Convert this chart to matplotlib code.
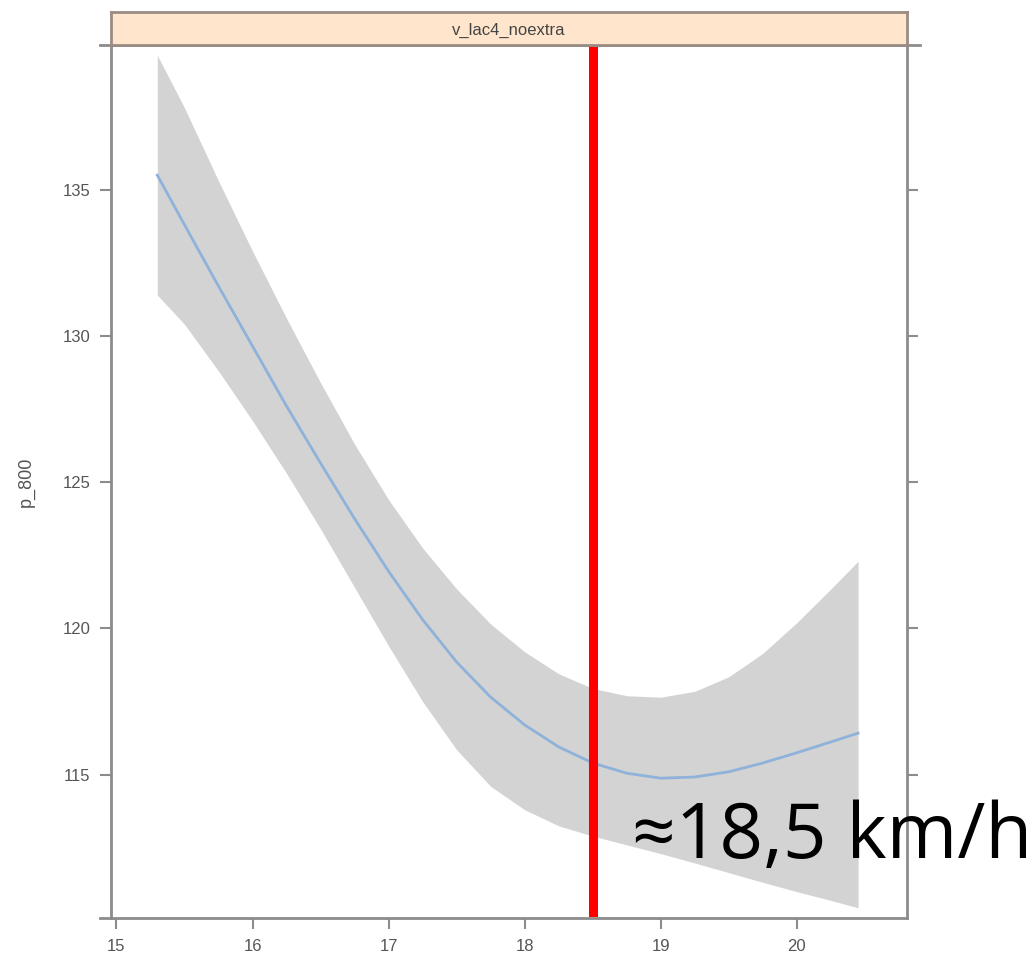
import matplotlib.pyplot as plt
from matplotlib.patches import Rectangle

# values
speed = [15.3, 15.5, 15.75, 16.0, 16.25, 16.5, 16.75, 17.0, 17.25, 17.5, 17.75,
         18.0, 18.25, 18.5, 18.75, 19.0, 19.25, 19.5, 19.75, 20.0, 20.25, 20.45]
fit = [135.5, 133.8, 131.7, 129.65, 127.6, 125.65, 123.75, 121.95, 120.3, 118.85, 117.65,
       116.7, 115.95, 115.4, 115.05, 114.88, 114.92, 115.1, 115.4, 115.75, 116.12, 116.42]
upper = [139.6, 137.8, 135.3, 132.9, 130.6, 128.4, 126.3, 124.4, 122.75, 121.35, 120.15,
         119.2, 118.45, 117.95, 117.7, 117.65, 117.85, 118.35, 119.15, 120.2, 121.35, 122.3]
lower = [131.4, 130.4, 128.8, 127.1, 125.3, 123.4, 121.4, 119.4, 117.5, 115.85, 114.6,
         113.8, 113.25, 112.9, 112.6, 112.3, 111.98, 111.65, 111.32, 111.0, 110.7, 110.45]
x_ticks = [15, 16, 17, 18, 19, 20]
y_ticks = [115, 120, 125, 130, 135]
marker_speed = 18.5
marker_label = '\u224818,5 km/h'
panel_title = 'v_lac4_noextra'

frame_col = '#8c8c8c'
tick_col = '#555555'
narrow = ['Liberation Sans Narrow', 'Liberation Sans']

fig = plt.figure(figsize=(10.33, 9.66), dpi=100)
ax = fig.add_axes([0.1075, 0.0497, 0.7706, 0.9037])

ax.fill_between(speed, lower, upper, color='#d3d3d3', linewidth=0)
ax.plot(speed, fit, color='#8fb2da', linewidth=2)

ax.set_xlim(14.96, 20.81)
ax.set_ylim(110.1, 139.95)
ax.set_xticks(x_ticks)
ax.set_yticks(y_ticks)
ax.tick_params(axis='both', direction='out', length=8, width=1.5, color=frame_col,
               labelcolor=tick_col, labelsize=12, pad=7)
ax.tick_params(axis='y', right=True)
for lab in ax.get_xticklabels() + ax.get_yticklabels():
    lab.set_family(narrow)
ax.set_ylabel('p_800', color=tick_col, fontsize=13, labelpad=20, family=narrow)
for s in ax.spines.values():
    s.set_color(frame_col)
    s.set_linewidth(2)

# little stubs where the frame lines run past the corners
ax.plot([-0.014, 0], [0, 0], transform=ax.transAxes, color=frame_col, lw=2, clip_on=False)
ax.plot([-0.014, 1.016], [1, 1], transform=ax.transAxes, color=frame_col, lw=2, clip_on=False)

# red marker line and label
ax.axvline(marker_speed, ymin=0.007, ymax=0.994, color='#ff0000', linewidth=6.5)
ax.text(18.79, 112.16, marker_label, fontsize=55, color='black', va='baseline', ha='left',
        family=['Open Sans', 'DejaVu Sans'])

# lattice-style strip on top
strip = fig.add_axes([0.1075, 0.9534, 0.7706, 0.0342])
strip.add_patch(Rectangle((0, 0), 1, 1, transform=strip.transAxes, facecolor='#ffe5cc',
                          edgecolor='none'))
strip.set_xticks([])
strip.set_yticks([])
for s in strip.spines.values():
    s.set_color('#9a8c84')
    s.set_linewidth(2)
strip.text(0.5, 0.45, panel_title, ha='center', va='center', fontsize=12, color='#444444',
           family=narrow)

fig.savefig('out.png', dpi=100)
